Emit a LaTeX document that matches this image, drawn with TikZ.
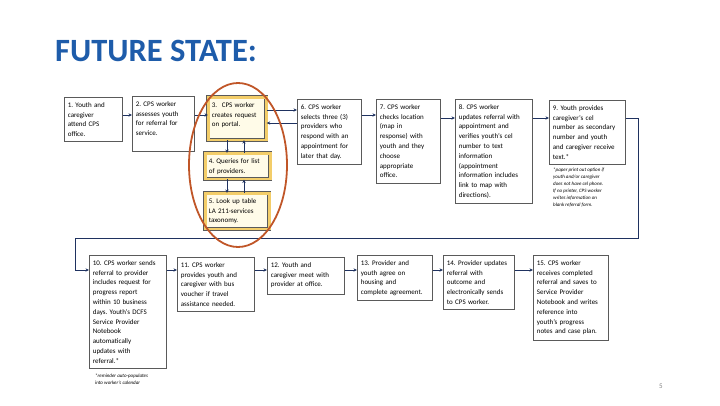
\documentclass[tikz,border=0pt]{standalone}
\usepackage{fontspec}
\setmainfont{Carlito}
\usetikzlibrary{arrows.meta}

\definecolor{titleblue}{RGB}{30,92,170}
\definecolor{boxgray}{RGB}{90,90,90}
\definecolor{arrnavy}{RGB}{31,50,96}
\definecolor{hlgold}{RGB}{243,205,105}
\definecolor{hlfill}{RGB}{255,251,232}
\definecolor{ovalred}{RGB}{192,86,40}

% invisible strut that lengthens a box below its last line
\newcommand{\padb}[1]{\rule[-#1pt]{0pt}{0pt}}
\frenchspacing

\begin{document}
\begin{tikzpicture}[
	x=1pt, y=-1pt,
	stepbox/.style={
		draw=boxgray, line width=0.7pt, fill=white,
		anchor=north west, align=left, text width=#1,
		inner xsep=3.5pt, inner ysep=5pt,
		font=\fontsize{7}{9.8}\selectfont
	},
	focusbox/.style={
		stepbox=#1, draw=boxgray, double=hlgold,
		double distance=2.4pt, fill=hlfill
	},
	arr/.style={-{Stealth[length=3.5pt, width=3.2pt]}, draw=arrnavy, line width=0.8pt},
	line/.style={draw=arrnavy, line width=0.8pt},
	note/.style={
		anchor=north west, align=left, inner sep=0pt,
		font=\fontsize{5}{7}\selectfont\itshape
	}
]
\useasboundingbox (0,0) rectangle (720,405);

% Title
\node[anchor=base west, inner sep=0pt, text=titleblue,
      font=\fontsize{32.5}{32.5}\selectfont\bfseries] (title) at (55,61) {FUTURE STATE:};

% Top row
\node[stepbox=51pt]   (s1) at (64,97)  {1. Youth and\\caregiver\\attend CPS\\office.};
\node[stepbox=55pt]   (s2) at (132,96) {2. CPS worker\\assesses youth\\for referral for\\service.\padb{11}};
\node[focusbox=51pt]  (s3) at (208,97) {3.\ \ CPS worker\\creates request\\on portal.\padb{8}};
\node[focusbox=58pt]  (s4) at (205,153) {4. Queries for list\\of providers.\padb{1}};
\node[focusbox=57pt]  (s5) at (205,193) {5. Look up table\\LA 211-services\\taxonomy.};
\node[stepbox=57pt]   (s6) at (297,99) {6. CPS worker\\selects three (3)\\providers who\\respond with an\\appointment for\\later that day.};
\node[stepbox=57pt]   (s7) at (376,99) {7. CPS worker\\checks location\\(map in\\response) with\\youth and they\\choose\\appropriate\\office.};
\node[stepbox=70pt]   (s8) at (455,99) {8. CPS worker\\updates referral with\\appointment and\\verifies youth's cel\\number to text\\information\\(appointment\\information includes\\link to map with\\directions).};
\node[stepbox=69pt]   (s9) at (549,100) {9. Youth provides\\caregiver's cel\\number as secondary\\number and youth\\and caregiver receive\\text.*};

% Footnote under step 9
\node[note] (note9) at (553,168) {*paper print out option if\\youth and/or caregiver\\does not have cel phone.\\If no printer, CPS worker\\writes information on\\blank referral form.};

% Bottom row
\node[stepbox=70pt]   (s10) at (89,255)  {10. CPS worker sends\\referral to provider\\includes request for\\progress report\\within 10 business\\days. Youth's DCFS\\Service Provider\\Notebook\\automatically\\updates with\\referral.*};
\node[stepbox=70pt]   (s11) at (177,257) {11. CPS worker\\provides youth and\\caregiver with bus\\voucher if travel\\assistance needed.};
\node[stepbox=70pt]   (s12) at (267,257) {12. Youth and\\caregiver meet with\\provider at office.\padb{3}};
\node[stepbox=68pt]   (s13) at (357,255) {13. Provider and\\youth agree on\\housing and\\complete agreement.};
\node[stepbox=64pt]   (s14) at (443,255) {14. Provider updates\\referral with\\outcome and\\electronically sends\\to CPS worker.};
\node[stepbox=68pt]   (s15) at (533,255) {15. CPS worker\\receives completed\\referral and saves to\\Service Provider\\Notebook and writes\\reference into\\youth's progress\\notes and case plan.};

% Footnote under step 10
\node[note] (note10) at (95,374) {*reminder auto-populates\\into worker's calendar};

% Page number
\node[text=gray, font=\fontsize{7}{7}\selectfont] (pagenum) at (661,386) {5};

% Top row connectors
\draw[arr] ([yshift=-18pt]s1.north east) -- ([yshift=-18pt]s1.north east -| s2.west);
\draw[arr] ([yshift=-19pt]s2.north east) -- ([yshift=-19pt]s2.north east -| s3.west);
\draw[arr] ([yshift=-13pt]s3.north east) -- ([yshift=-13pt]s3.north east -| s6.west);
\draw[arr] ([yshift=-26pt]s3.north east -| s6.west) -- ([yshift=-26pt]s3.north east);
\draw[arr] ([yshift=-16pt]s6.north east) -- ([yshift=-16pt]s6.north east -| s7.west);
\draw[arr] ([yshift=-19pt]s7.north east) -- ([yshift=-19pt]s7.north east -| s8.west);
\draw[arr] ([yshift=-19pt]s8.north east) -- ([yshift=-19pt]s8.north east -| s9.west);

% Portal queries, down and back up
\draw[arr] ([xshift=19pt]s3.south west) -- ([xshift=19pt]s3.south west |- s4.north);
\draw[arr] ([xshift=39pt]s4.north west) -- ([xshift=39pt]s4.north west |- s3.south);
\draw[arr] ([xshift=22pt]s4.south west) -- ([xshift=22pt]s4.south west |- s5.north);
\draw[arr] ([xshift=39pt]s5.north west) -- ([xshift=39pt]s5.north west |- s4.south);

% Wrap from step 9 down to step 10
\coordinate (wrapR) at (638,238);
\coordinate (wrapL) at (75,238);
\draw[arr] ([yshift=-18pt]s9.north east) -| (wrapR) -- (wrapL) |- ([yshift=-15pt]s10.north west);

% Bottom row connectors
\draw[arr] ([yshift=-15pt]s10.north east) -- ([yshift=-15pt]s10.north east -| s11.west);
\draw[arr] ([yshift=-13pt]s11.north east) -- ([yshift=-13pt]s11.north east -| s12.west);
\draw[arr] ([yshift=-13pt]s12.north east) -- ([yshift=-13pt]s12.north east -| s13.west);
\draw[arr] ([yshift=-15pt]s13.north east) -- ([yshift=-15pt]s13.north east -| s14.west);
\draw[arr] ([yshift=-15pt]s14.north east) -- ([yshift=-15pt]s14.north east -| s15.west);

% Highlight round steps 3 to 5
\coordinate (focus) at (238,165);
\draw[draw=ovalred, line width=1.8pt] (focus) ellipse [x radius=49pt, y radius=82pt];

\end{tikzpicture}
\end{document}
